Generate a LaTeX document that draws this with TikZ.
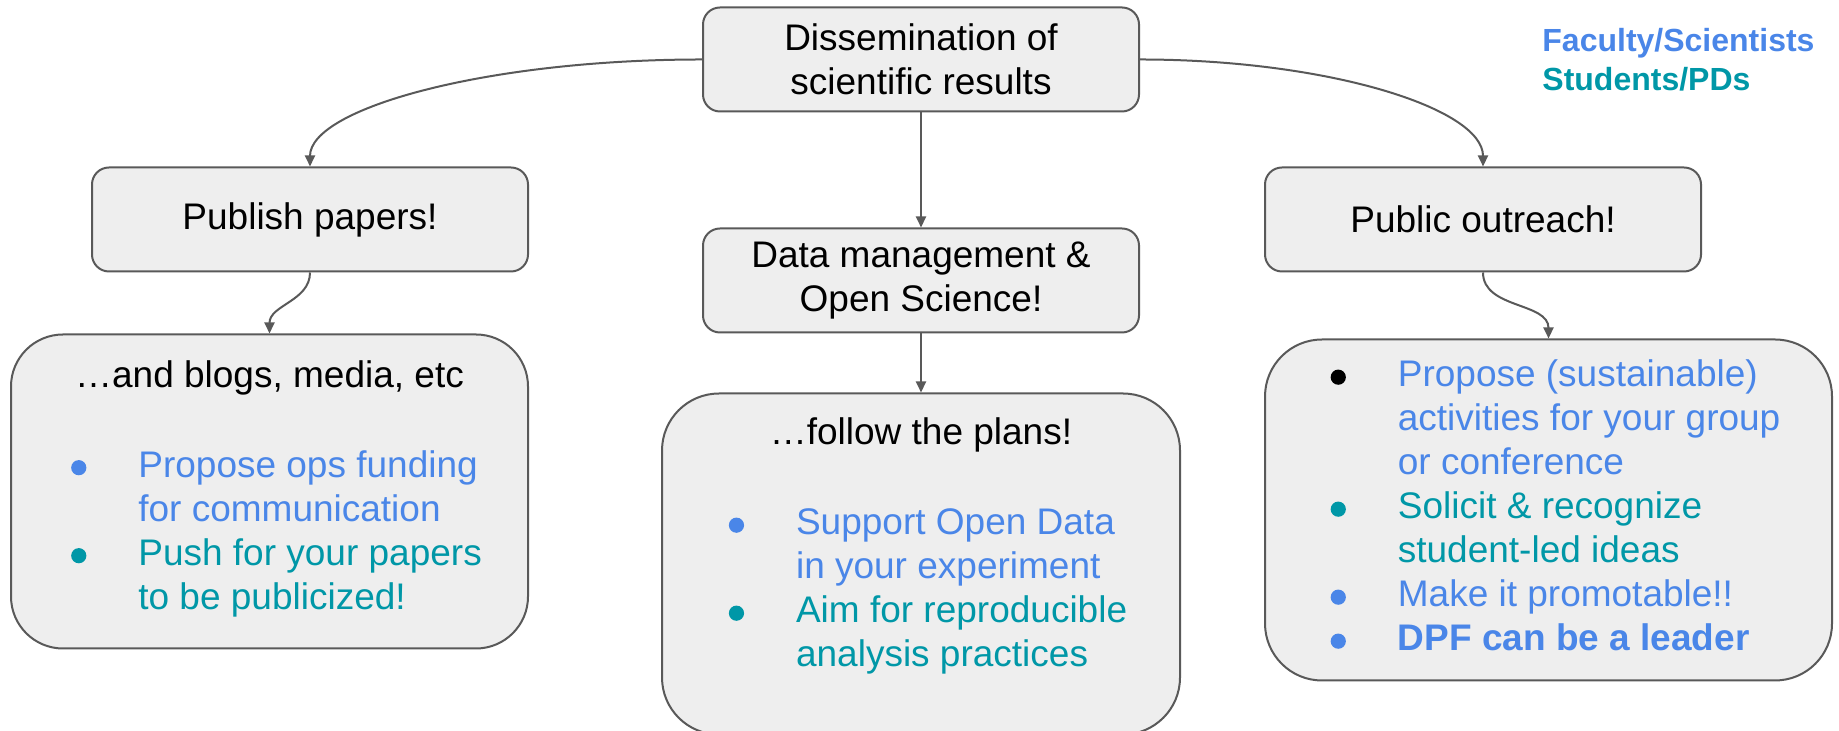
\documentclass[tikz,border=0pt]{standalone}
\usepackage{fontspec}
\setmainfont{Liberation Sans}
\usetikzlibrary{arrows.meta,positioning}
\definecolor{fac}{HTML}{4A86E8}
\definecolor{stu}{HTML}{0097A7}
\definecolor{boxgray}{HTML}{EEEEEE}
\definecolor{linegray}{HTML}{595959}
\tikzset{
  box/.style={draw=linegray, line width=1pt, fill=boxgray, rounded corners=8.5pt, align=center,
    minimum width=218pt, minimum height=52pt, inner sep=0pt},
  panel/.style={box, minimum height=170.5pt, rounded corners=28.5pt},
  arr/.style={-{Triangle[length=5.5pt,width=5pt]}, line width=1pt, draw=linegray},
  key/.style={font=\fontsize{16}{19.5}\selectfont\bfseries, align=left, inner sep=0pt}}
% coloured bullet dot
\newcommand{\bul}[1]{\tikz[baseline=-4.8pt]\fill[#1] (0,0) circle (3.8pt);}
% bullet list: dot column + text column
\newenvironment{blist}{\begin{tabular}[t]{@{\hspace{7pt}}c@{\hspace{26pt}}l@{}}}{\end{tabular}}

\begin{document}
\begin{tikzpicture}[x=1pt, y=1pt, font=\fontsize{18.5}{22}\selectfont]
  \useasboundingbox (0,0) rectangle (919.5,365.5);
  \node[box] (top) at (460.5,335.75) {Dissemination of\\scientific results};
  \node[box, below=57.5pt of top] (data) {Data management \&\\Open Science!};
  \node[box, below left=27pt and 86.5pt of top] (pub) {Publish papers!};
  \node[box, below right=27pt and 62pt of top] (public) {Public outreach!};
  \node[key, right=201pt of top] (legend) {\textcolor{fac}{Faculty/Scientists}\\\textcolor{stu}{Students/PDs}};

  \node[panel, minimum width=258.5pt, minimum height=157pt, rounded corners=26pt,
        below=30.5pt of pub.south east, anchor=north east] (blogs)
    {…and blogs, media, etc\\[23pt]
     \begin{blist}
       \bul{fac} & \textcolor{fac}{Propose ops funding}\\
                 & \textcolor{fac}{for communication}\\
       \bul{stu} & \textcolor{stu}{Push for your papers}\\
                 & \textcolor{stu}{to be publicized!}
     \end{blist}};
  \node[panel, minimum width=259pt, below=29.5pt of data] (plans)
    {…follow the plans!\\[23pt]
     \begin{blist}
       \bul{fac} & \textcolor{fac}{Support Open Data}\\
                 & \textcolor{fac}{in your experiment}\\
       \bul{stu} & \textcolor{stu}{Aim for reproducible}\\
                 & \textcolor{stu}{analysis practices}\\[-7pt]
                 &
     \end{blist}};
  \node[panel, minimum width=283.5pt, below=33pt of public.south west, anchor=north west] (ideas)
    {\begin{blist}
       \bul{black} & \textcolor{fac}{Propose (sustainable)}\\
                   & \textcolor{fac}{activities for your group}\\
                   & \textcolor{fac}{or conference}\\
       \bul{stu}   & \textcolor{stu}{Solicit \& recognize}\\
                   & \textcolor{stu}{student-led ideas}\\
       \bul{fac}   & \textcolor{fac}{Make it promotable!!}\\
       \bul{fac}   & \textcolor{fac}{\bfseries DPF can be a leader}
     \end{blist}};

  \draw[arr] (top.west) to[out=180, in=90, out distance=108pt, in distance=29pt] (pub.north);
  \draw[arr] (top.east) to[out=0, in=90, out distance=94pt, in distance=29pt] (public.north);
  \draw[arr] (top) -- (data);
  \draw[arr] (data) -- (plans);
  \draw[arr] (pub) to[out=-90, in=90] (blogs);
  \draw[arr] (public) to[out=-90, in=90] (ideas);
\end{tikzpicture}
\end{document}
